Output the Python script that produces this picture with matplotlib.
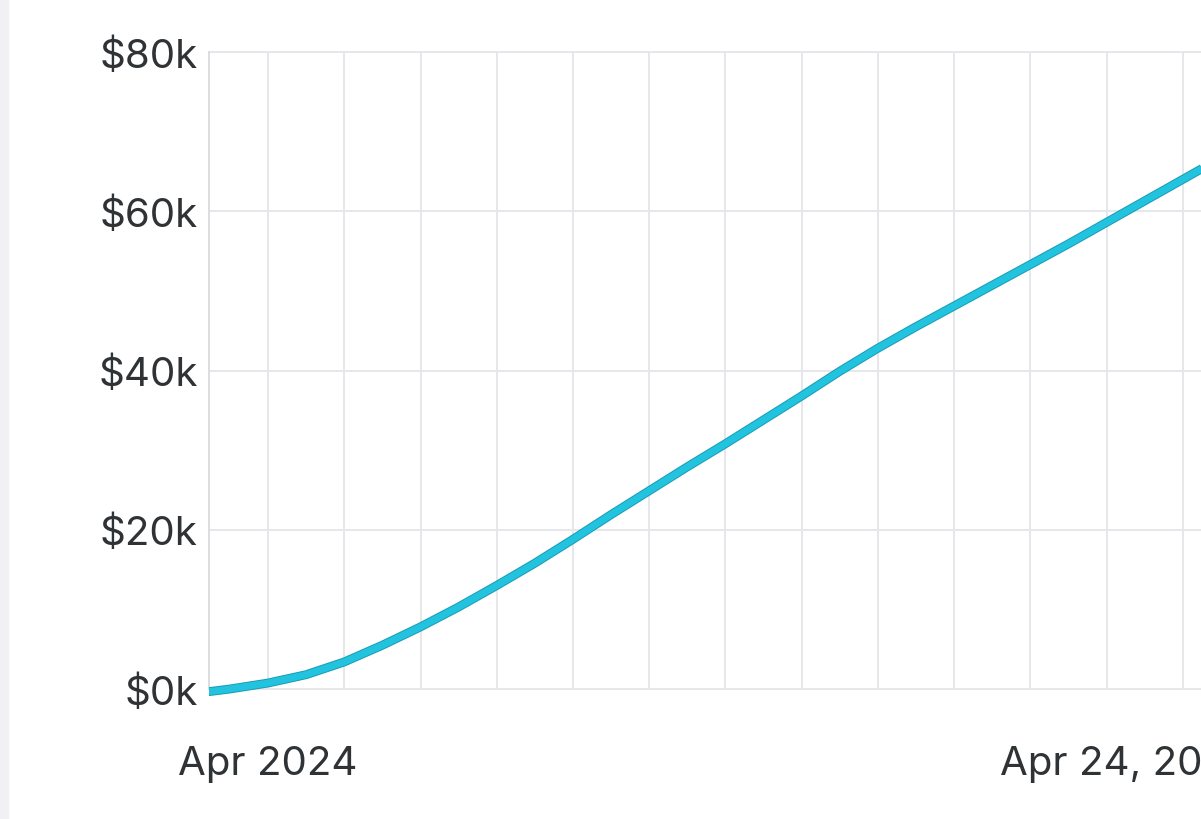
import matplotlib
matplotlib.use("Agg")
import matplotlib.pyplot as plt
import matplotlib.dates as mdates
import matplotlib.patheffects as pe
from matplotlib.patches import Rectangle
from matplotlib.transforms import ScaledTranslation
import pandas as pd

# daily cumulative revenue, in $k
dates = ["2024-03-30", "2024-03-31", "2024-04-01", "2024-04-02", "2024-04-03",
         "2024-04-04", "2024-04-05", "2024-04-06", "2024-04-07", "2024-04-08",
         "2024-04-09", "2024-04-10", "2024-04-11", "2024-04-12", "2024-04-13",
         "2024-04-14", "2024-04-15", "2024-04-16", "2024-04-17", "2024-04-18",
         "2024-04-19", "2024-04-20", "2024-04-21", "2024-04-22", "2024-04-23",
         "2024-04-24", "2024-04-25", "2024-04-26"]
revenue_k = [-0.6, 0.0, 0.75, 1.8, 3.4, 5.5, 7.8, 10.3, 13.0, 15.8,
             18.8, 21.9, 24.9, 27.9, 30.8, 33.8, 36.8, 39.9, 42.8, 45.5,
             48.1, 50.7, 53.3, 55.9, 58.6, 61.3, 64.0, 66.7]

grid_dates = ["2024-04-01", "2024-04-03", "2024-04-05", "2024-04-07", "2024-04-09",
              "2024-04-11", "2024-04-13", "2024-04-15", "2024-04-17", "2024-04-19",
              "2024-04-21", "2024-04-23", "2024-04-25", "2024-04-27"]
label_dates = ["2024-04-01", "2024-04-24"]
label_text = ["Apr 2024", "Apr 24, 2024"]
y_ticks = [0, 20, 40, 60, 80]
y_labels = ["$0k", "$20k", "$40k", "$60k", "$80k"]

plt.rcParams["font.family"] = ["Inter", "DejaVu Sans"]

to_num = lambda d: mdates.date2num(pd.to_datetime(d).to_pydatetime())

fig = plt.figure(figsize=(12.01, 8.2), dpi=100)
fig.patches.append(Rectangle((0, 0), 8 / 1201, 1, transform=fig.transFigure,
                             color="#f1f1f3", zorder=0))

ax = fig.add_axes([209 / 1201, 1 - 690 / 820, 1050 / 1201, 637 / 820])

line, = ax.plot(to_num(dates), revenue_k, color="#22c3de", lw=5,
                solid_capstyle="butt", solid_joinstyle="round",
                path_effects=[pe.Stroke(linewidth=6.4, foreground="#1a9bb3"), pe.Normal()],
                zorder=3)
# let the line dip a little under the zero line, but still cut it at the left edge
line.set_clip_path(Rectangle((0, -0.05), 1.2, 1.1, transform=ax.transAxes))

ax.set_xlim(to_num("2024-03-30 10:48"), to_num("2024-04-27"))
ax.set_ylim(0, 80)

ax.xaxis.remove_overlapping_locs = False
ax.set_yticks(y_ticks)
ax.set_yticklabels(y_labels)
ax.set_xticks(to_num(label_dates))
ax.set_xticklabels(label_text)
ax.set_xticks(to_num(grid_dates), minor=True)

ax.grid(which="minor", axis="x", color="#e6e7ea", lw=1.4)
ax.grid(which="major", axis="y", color="#e6e7ea", lw=1.4)
ax.set_axisbelow(True)
for gl in ax.get_ygridlines():
    gl.set_clip_on(False)

for s in ["top", "right", "bottom"]:
    ax.spines[s].set_visible(False)
ax.spines["left"].set_color("#dcdde0")
ax.spines["left"].set_linewidth(1.4)

ax.tick_params(axis="both", which="both", length=0, labelsize=29, labelcolor="#2f3336")
ax.tick_params(axis="y", pad=8)
ax.tick_params(axis="x", pad=40)

# last date label sits a little left of its day
lbl = ax.get_xticklabels()[1]
lbl.set_transform(lbl.get_transform() + ScaledTranslation(-18 / 100, 0, fig.dpi_scale_trans))

fig.savefig("out.png", dpi=100)
